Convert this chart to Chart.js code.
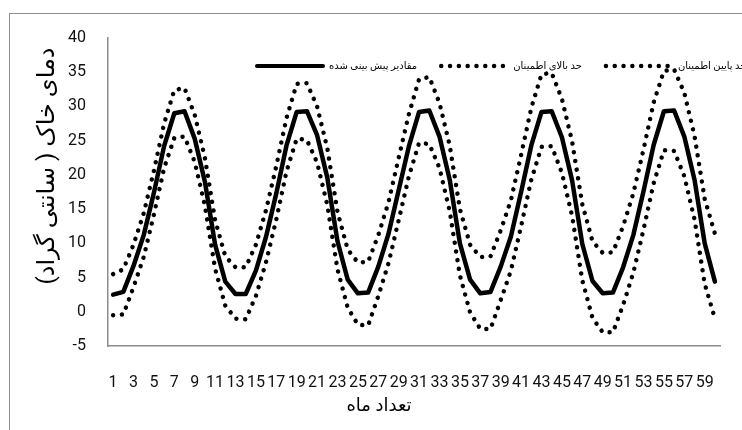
<!DOCTYPE html>
<html>
<head>
<meta charset="utf-8">
<script src="https://cdn.jsdelivr.net/npm/chart.js@4/dist/chart.umd.min.js"></script>
<style>
  html, body { margin: 0; padding: 0; background: #fff; overflow: hidden; }
  #wrap { position: relative; width: 742px; height: 430px; }
  #frame { position: absolute; left: 9px; top: 13px; width: 800px; height: 500px; border: 1px solid #8c8c8c; }
  canvas { position: absolute; left: 0; top: 0; }
</style>
</head>
<body>
<div id="wrap">
  <div id="frame"></div>
  <canvas id="soilChart" width="742" height="430"></canvas>
</div>
<script>
const months = ["1","2","3","4","5","6","7","8","9","10","11","12","13","14","15","16","17","18","19","20",
  "21","22","23","24","25","26","27","28","29","30","31","32","33","34","35","36","37","38","39","40",
  "41","42","43","44","45","46","47","48","49","50","51","52","53","54","55","56","57","58","59","60"];

// forecast (solid line)
const forecast = [
  2.5, 2.9, 6.7, 11.2, 17.4, 24.2, 29.0, 29.3, 25.3, 19.0, 9.8, 4.4,
  2.6, 2.6, 6.0, 11.0, 17.3, 24.3, 29.2, 29.3, 25.8, 19.6, 10.3, 4.7,
  2.7, 2.8, 6.6, 11.4, 17.8, 24.2, 29.2, 29.4, 25.6, 19.3, 10.0, 4.7,
  2.7, 2.9, 6.6, 11.0, 17.5, 24.3, 29.2, 29.3, 25.5, 19.2, 9.9, 4.5,
  2.7, 2.8, 6.5, 11.2, 17.6, 24.4, 29.3, 29.4, 25.6, 19.3, 10.0, 4.4
];

// upper confidence limit
const upper = [
  5.5, 6.2, 9.8, 14.4, 20.6, 27.5, 32.4, 32.7, 28.8, 22.5, 13.4, 8.1,
  6.5, 6.5, 9.8, 14.9, 21.3, 28.3, 33.3, 33.4, 30.0, 23.9, 14.6, 9.1,
  7.2, 7.3, 11.2, 16.0, 22.5, 28.9, 34.0, 34.3, 30.5, 24.3, 15.0, 9.8,
  8.0, 8.1, 11.9, 16.3, 22.9, 29.8, 34.7, 34.9, 31.1, 24.9, 15.7, 10.3,
  8.6, 8.7, 12.5, 17.3, 23.7, 30.6, 35.2, 35.4, 32.0, 25.7, 16.5, 11.4
];

// lower confidence limit
const lower = [
  -0.5, -0.4, 3.6, 8.0, 14.2, 21.0, 25.4, 25.6, 21.9, 15.5, 6.3, 0.9,
  -1.0, -1.1, 2.3, 7.3, 13.5, 20.5, 25.3, 25.1, 21.8, 15.6, 6.2, 0.6,
  -1.9, -2.0, 2.3, 7.1, 13.4, 19.8, 24.7, 24.5, 21.0, 14.7, 5.3, -0.1,
  -2.5, -2.5, 1.7, 6.0, 12.5, 19.3, 24.1, 24.2, 20.3, 14.0, 4.6, -0.9,
  -3.0, -3.0, 1.0, 5.7, 12.0, 18.8, 23.6, 23.5, 19.8, 13.5, 4.1, -1.0
];

const yTicks = { min: -5, max: 40, step: 5 };
const seriesNames = ["مقادیر پیش بینی شده", "حد بالای اطمینان", "حد پایین اطمینان"];
const xTitle = "تعداد ماه";
const yTitle = "دمای خاک ( سانتی گراد)";

const fontFamily = "Roboto, 'DejaVu Sans'";
const tickFont = { family: fontFamily, size: 16 };
const axisGray = "#8c8c8c";

// axis titles are placed like the spreadsheet did it, not centred on the plot
const axisTitles = {
  id: "axisTitles",
  afterDraw(chart) {
    const { ctx, chartArea } = chart;
    ctx.save();
    ctx.fillStyle = "#000";
    ctx.direction = "rtl";
    ctx.textAlign = "center";
    ctx.textBaseline = "middle";
    ctx.font = "18px " + fontFamily;
    ctx.fillText(xTitle, chart.width / 2 + 8, chartArea.bottom + 60);
    ctx.translate(chartArea.left - 60, chartArea.top + 128);
    ctx.rotate(-Math.PI / 2);
    ctx.font = "24px " + fontFamily;
    ctx.fillText(yTitle, 0, 0);
    ctx.restore();
  }
};

// legend sits inside the plot, top right, line sample left of each name
const lineLegend = {
  id: "lineLegend",
  afterDraw(chart) {
    const { ctx, chartArea } = chart;
    const sampleLen = 66, textGap = 6, itemGap = 24;
    const y = chartArea.top + 28;
    let x = chartArea.left + 149;
    ctx.save();
    ctx.font = "10px " + fontFamily;
    ctx.textBaseline = "middle";
    ctx.textAlign = "left";
    ctx.direction = "rtl";
    chart.data.datasets.forEach(ds => {
      ctx.strokeStyle = ds.borderColor;
      ctx.lineWidth = ds.borderDash.length ? ds.borderWidth : 4;
      ctx.lineCap = "round";
      ctx.setLineDash(ds.borderDash);
      ctx.beginPath();
      ctx.moveTo(x, y);
      ctx.lineTo(x + sampleLen, y);
      ctx.stroke();
      x += sampleLen + textGap;
      ctx.setLineDash([]);
      ctx.fillStyle = "#000";
      ctx.fillText(ds.label, x, y);
      x += ctx.measureText(ds.label).width + itemGap;
    });
    ctx.restore();
  }
};

function lineSet(label, data, dotted) {
  return {
    label,
    data,
    borderColor: "#000",
    backgroundColor: "#000",
    borderWidth: 4.5,
    borderDash: dotted ? [0.01, 8.8] : [],
    borderCapStyle: "round",
    borderJoinStyle: "round",
    pointRadius: 0,
    tension: 0,
    fill: false
  };
}

new Chart(document.getElementById("soilChart").getContext("2d"), {
  type: "line",
  data: {
    labels: months,
    datasets: [
      lineSet(seriesNames[0], forecast, false),
      lineSet(seriesNames[1], upper, true),
      lineSet(seriesNames[2], lower, true)
    ]
  },
  options: {
    responsive: false,
    animation: false,
    layout: { padding: { top: 38, right: 11, left: 0, bottom: 0 } },
    plugins: {
      tooltip: { enabled: false },
      legend: { display: false }
    },
    scales: {
      x: {
        type: "category",
        offset: true,
        grid: { display: false, drawTicks: false },
        border: { display: true, color: axisGray, width: 1.5 },
        ticks: {
          autoSkip: false,
          maxRotation: 0,
          minRotation: 0,
          padding: 27,
          color: "#111",
          font: tickFont,
          callback: (v, i) => (i % 2 === 0 ? months[i] : "")
        },
        afterFit: s => { s.height = 84; }
      },
      y: {
        min: yTicks.min,
        max: yTicks.max,
        grid: { display: false, drawTicks: false },
        border: { display: true, color: axisGray, width: 1.5 },
        ticks: { stepSize: yTicks.step, padding: 22, color: "#111", font: tickFont },
        afterFit: s => { s.width = 108; }
      }
    }
  },
  plugins: [axisTitles, lineLegend]
});
</script>
</body>
</html>
